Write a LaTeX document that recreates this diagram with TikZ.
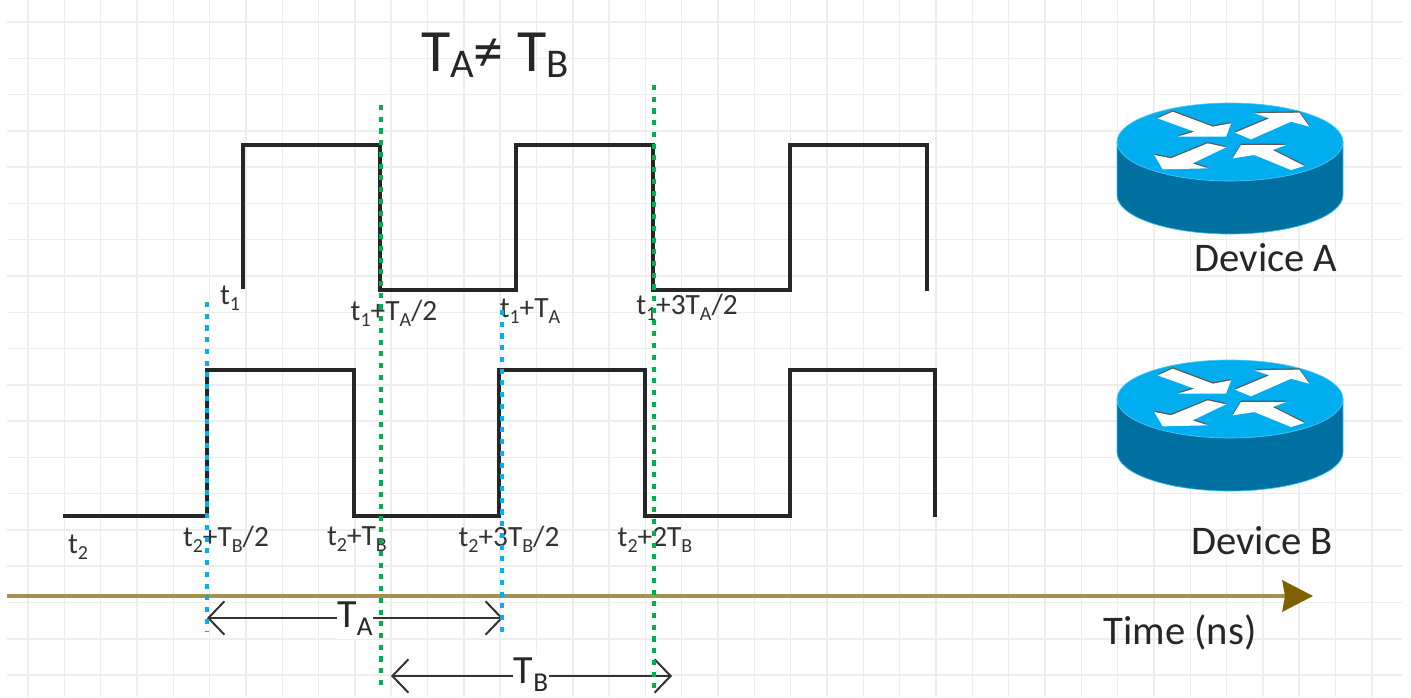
\documentclass[tikz,border=0pt]{standalone}
\usepackage{fontspec}
\setmainfont{Carlito}
\usetikzlibrary{arrows.meta}
\definecolor{gridc}{HTML}{EDEDED}
\definecolor{axisc}{HTML}{A59050}
\definecolor{axishead}{HTML}{7F6000}
\definecolor{greenc}{HTML}{00B050}
\definecolor{bluec}{HTML}{00B0F0}
\definecolor{rtop}{HTML}{00AEEF}
\definecolor{rside}{HTML}{0070A0}
\newcommand{\sbs}[1]{\raisebox{-.2em}{\scalebox{.68}{#1}}}
\newcommand{\tsbs}[1]{\raisebox{-.1em}{\scalebox{.68}{#1}}}
\newcommand{\routerarrows}{%
  \fill (200,85)--(245,65)--(365,110)--(420,100)--(405,140)--(260,140)--(310,125)--cycle;
  \fill (432,128)--(535,85)--(490,70)--(625,68)--(655,110)--(600,95)--(480,148)--cycle;
  \fill (405,172)--(350,160)--(240,205)--(190,195)--(215,238)--(350,235)--(305,220)--cycle;
  \fill (640,228)--(600,240)--(490,195)--(425,205)--(450,165)--(585,165)--(545,180)--cycle;
}
\tikzset{
  gridline/.style={draw=gridc,line width=1.1pt},
  wave/.style={draw=black!85,line width=2.45pt,line join=miter},
  greenmark/.style={draw=greenc,line width=2.3pt,dash pattern=on 3.8pt off 5pt},
  bluemark/.style={draw=bluec,line width=2.3pt,dash pattern=on 3.8pt off 5pt},
  span/.style={draw=black!80,line width=1.5pt,{Straight Barb[length=12pt,width=25pt,line width=1.5pt]}-{Straight Barb[length=12pt,width=25pt,line width=1.5pt]}},
  timeaxis/.style={draw=axisc,line width=2.5pt,-{Stealth[length=23pt,width=23.5pt,inset=2pt,color=axishead]}},
  smalltxt/.style={font=\fontsize{22pt}{24pt}\selectfont,text=black!80,inner sep=0pt},
  bigtxt/.style={font=\fontsize{30.5pt}{32pt}\selectfont,text=black!85,inner sep=0pt},
  gaptxt/.style={font=\fontsize{30pt}{32pt}\selectfont,text=black!85,fill=white,inner sep=0pt,minimum width=27pt,minimum height=30pt},
  router/.pic={
    \fill[rside,draw=bluec!80,line width=.5pt] (-113,0) -- (-113,53) arc[start angle=180,end angle=360,x radius=84.75pt,y radius=29.25pt] -- (113,0) -- cycle;
    \fill[rtop,draw=bluec!70,line width=.5pt] (0,0) ellipse[x radius=84.75pt,y radius=29.25pt];
    \begin{scope}[x=.25pt,y=-.25pt,shift={(-417,-156)}]
      \begin{scope}[shift={(0,-4)},black!65]\routerarrows\end{scope}
      \begin{scope}[white]\routerarrows\end{scope}
    \end{scope}
  }
}
\begin{document}
\begin{tikzpicture}[x=.75pt,y=-.75pt]
\useasboundingbox (0,0) rectangle (1411,697);
\fill[white] (0,0) rectangle (1411,697);
% grid
\foreach \k in {0,...,37}{\draw[gridline] ({28+36.32*\k},0) -- ({28+36.32*\k},697);}
\foreach \k in {0,...,18}{\draw[gridline] (7,{22+36.28*\k}) -- (1402,{22+36.28*\k});}
% time axis
\coordinate (axisL) at (7,596);
\coordinate (axisR) at (1313,596);
\draw[timeaxis] (axisL) -- (axisR);
% waveforms
\coordinate (a0) at (243,289); \coordinate (a1) at (243,145); \coordinate (a2) at (380,145);
\coordinate (a3) at (380,290); \coordinate (a4) at (516,290); \coordinate (a5) at (516,145);
\coordinate (a6) at (653,145); \coordinate (a7) at (653,290); \coordinate (a8) at (790,290);
\coordinate (a9) at (790,145); \coordinate (a10) at (927,145); \coordinate (a11) at (927,291);
\draw[wave] (a0)--(a1)--(a2)--(a3)--(a4)--(a5)--(a6)--(a7)--(a8)--(a9)--(a10)--(a11);
\coordinate (b0) at (63,516); \coordinate (b1) at (207,516); \coordinate (b2) at (207,370);
\coordinate (b3) at (354,370); \coordinate (b4) at (354,516); \coordinate (b5) at (499,516);
\coordinate (b6) at (499,370); \coordinate (b7) at (645,370); \coordinate (b8) at (645,516);
\coordinate (b9) at (790,516); \coordinate (b10) at (790,370); \coordinate (b11) at (935,370);
\coordinate (b12) at (935,517);
\draw[wave] (b0)--(b1)--(b2)--(b3)--(b4)--(b5)--(b6)--(b7)--(b8)--(b9)--(b10)--(b11)--(b12);
% labels of edges
\node[smalltxt] (l1) at (230,298) {t\sbs{1}};
\node[smalltxt] (l2) at (394,313) {t\sbs{1}+T\sbs{A}/2};
\node[smalltxt] (l3) at (530,311) {t\sbs{1}+T\sbs{A}};
\node[smalltxt] (l4) at (687,307) {t\sbs{1}+3T\sbs{A}/2};
\node[smalltxt] (l5) at (78,547) {t\sbs{2}};
\node[smalltxt] (l6) at (226,539) {t\sbs{2}+T\sbs{B}/2};
\node[smalltxt] (l7) at (357,539) {t\sbs{2}+T\sbs{B}};
\node[smalltxt] (l8) at (509,539) {t\sbs{2}+3T\sbs{B}/2};
\node[smalltxt] (l9) at (655,540) {t\sbs{2}+2T\sbs{B}};
% period spans
\coordinate (taL) at (207,618); \coordinate (taR) at (503,618);
\coordinate (tbL) at (391,676); \coordinate (tbR) at (672,676);
\draw[span] (taL) -- (taR);
\draw[span] (tbL) -- (tbR);
\node[gaptxt] (ta) at (355,619) {T\sbs{A}};
\node[gaptxt] (tb) at (531,675) {T\sbs{B}};
% markers
\coordinate (g1t) at (381,105); \coordinate (g1b) at (381,690);
\coordinate (g2t) at (654,85); \coordinate (g2b) at (654,692);
\coordinate (c1t) at (207,302); \coordinate (c1b) at (207,632);
\coordinate (c2t) at (502,310); \coordinate (c2b) at (502,632);
\draw[bluemark] (c1t) -- (c1b);
\draw[bluemark] (c2t) -- (c2b);
\draw[greenmark] (g1t) -- (g1b);
\draw[greenmark] (g2t) -- (g2b);
% title and devices
\node[font=\fontsize{45pt}{48pt}\selectfont,text=black!85,inner sep=0pt] (title) at (495,55) {T\tsbs{A}≠ T\tsbs{B}};
\pic (ra) at (1230,142) {router};
\pic (rb) at (1230,399) {router};
\node[bigtxt] (da) at (1266,258) {Device A};
\node[bigtxt] (db) at (1262,541) {Device B};
\node[bigtxt] (time) at (1180,632) {Time (ns)};
\end{tikzpicture}
\end{document}
